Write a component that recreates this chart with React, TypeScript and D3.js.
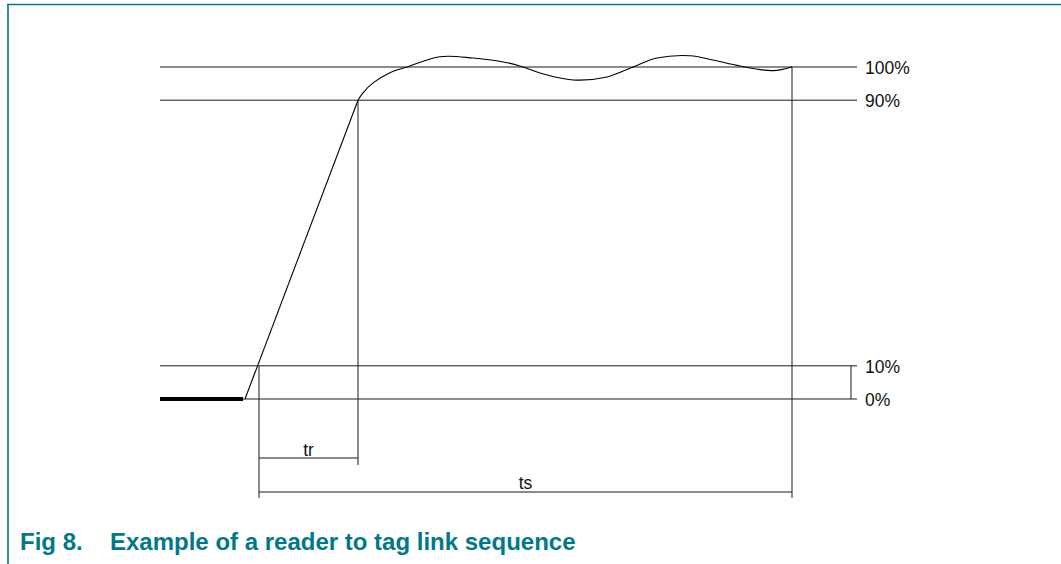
import React from "react";
import * as d3 from "d3";

// ---- data ----
const levels = [100, 90, 10, 0];
const levelLabels = ["100%", "90%", "10%", "0%"];

// idle (thick) level before the rise
const idleT = [0, 83];
const idleV = [0, 0];

// linear rising edge
const riseT = [85, 198];
const riseV = [0, 90];

// overshoot / settling part
const settleT = [198, 203, 213, 230, 247, 280, 313, 347, 363, 380, 413, 447, 473, 497, 530, 553, 580, 613, 632];
const settleV = [90, 92.2, 95.2, 98.3, 100, 103.1, 102.7, 101.3, 100, 98.2, 96.1, 97.0, 100, 102.7, 103.4, 102.1, 100.3, 98.9, 100.1];

// timing markers
const t10 = 99;
const t90 = 198;
const tSettle = 632;
const dimLabels = ["tr", "ts"];

const caption = ["Fig 8.", "Example of a reader to tag link sequence"];

const W = 1061;
const H = 564;
const TEAL = "#00788A";
const INK = "#1a1a1a";

export default function App() {
  const x = d3.scaleLinear().domain([0, 695]).range([160, 855]);
  const y = d3.scaleLinear().domain([0, 100]).range([399, 67]);

  const lin = d3.line<[number, number]>().x((d) => x(d[0])).y((d) => y(d[1]));
  const smooth = d3
    .line<[number, number]>()
    .x((d) => x(d[0]))
    .y((d) => y(d[1]))
    .curve(d3.curveCatmullRom.alpha(0.5));

  const idlePts = idleT.map((t, i) => [t, idleV[i]] as [number, number]);
  const risePts = riseT.map((t, i) => [t, riseV[i]] as [number, number]);
  const settlePts = settleT.map((t, i) => [t, settleV[i]] as [number, number]);

  const xEnd = x(697);
  const xBracket = x(691);
  const yTr = y(0) + 59;
  const yTs = y(0) + 93;
  const font = "Liberation Sans, Arial, Helvetica, sans-serif";

  return (
    <svg
      width={W}
      height={H}
      style={{ position: "absolute", left: 0, top: 0, background: "#fff" }}
      fontFamily={font}
    >
      {/* frame */}
      <line x1={7} x2={W} y1={4.5} y2={4.5} stroke={TEAL} strokeWidth={1.6} />
      <line x1={8} x2={8} y1={4} y2={H} stroke={TEAL} strokeWidth={1.6} />

      {/* level lines */}
      {levels.map((v, i) => (
        <g key={v}>
          <line x1={x(0)} x2={xEnd} y1={y(v)} y2={y(v)} stroke={INK} strokeWidth={1} />
          <text x={x(705)} y={y(v) + 7} fontSize={17.5} fill="#111">
            {levelLabels[i]}
          </text>
        </g>
      ))}
      {/* bracket between 10% and 0% */}
      <line x1={xBracket} x2={xBracket} y1={y(10)} y2={y(0)} stroke={INK} strokeWidth={1} />

      {/* idle level */}
      <path d={lin(idlePts) || ""} fill="none" stroke="#000" strokeWidth={4} />
      {/* rising edge */}
      <path d={lin(risePts) || ""} fill="none" stroke="#000" strokeWidth={1.1} />
      {/* settling */}
      <path d={smooth(settlePts) || ""} fill="none" stroke="#000" strokeWidth={1.1} />

      {/* timing verticals */}
      <line x1={x(t10)} x2={x(t10)} y1={y(10)} y2={yTs + 6} stroke={INK} strokeWidth={1} />
      <line x1={x(t90)} x2={x(t90)} y1={y(90)} y2={yTr + 7} stroke={INK} strokeWidth={1} />
      <line x1={x(tSettle)} x2={x(tSettle)} y1={y(100)} y2={yTs + 6} stroke={INK} strokeWidth={1} />

      {/* dimension lines */}
      <line x1={x(t10)} x2={x(t90)} y1={yTr} y2={yTr} stroke={INK} strokeWidth={1} />
      <text x={(x(t10) + x(t90)) / 2} y={yTr - 2} fontSize={17.5} textAnchor="middle" fill="#111">
        {dimLabels[0]}
      </text>
      <line x1={x(t10)} x2={x(tSettle)} y1={yTs} y2={yTs} stroke={INK} strokeWidth={1} />
      <text x={(x(t10) + x(tSettle)) / 2} y={yTs - 3} fontSize={17.5} textAnchor="middle" fill="#111">
        {dimLabels[1]}
      </text>

      {/* caption */}
      <text x={20} y={550} fontSize={24} fontWeight="bold" fill={TEAL}>
        {caption[0]}
      </text>
      <text x={110} y={550} fontSize={24} fontWeight="bold" fill={TEAL}>
        {caption[1]}
      </text>
    </svg>
  );
}
